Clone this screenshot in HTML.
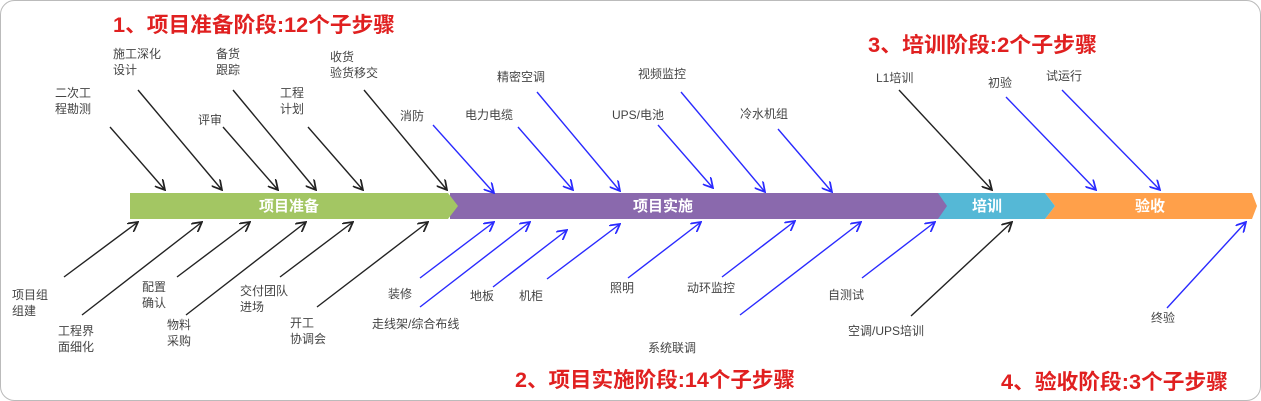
<!DOCTYPE html>
<html><head><meta charset="utf-8"><style>
html,body{margin:0;padding:0;background:#fff;}
body{width:1261px;height:401px;overflow:hidden;position:relative;}
svg{position:absolute;left:0;top:0;}
text{font-family:"Liberation Sans","Noto Sans CJK SC",sans-serif;}
.l{font-size:12px;fill:#444;}
.t{font-size:21px;fill:#e02020;font-weight:bold;}
.s{font-size:15px;fill:#fff;font-weight:bold;}
</style></head><body>
<svg width="1261" height="401" viewBox="0 0 1261 401">
<defs>
<marker id="mk" viewBox="0 0 10 10" refX="9" refY="5" markerWidth="11" markerHeight="11" markerUnits="userSpaceOnUse" orient="auto"><path d="M0,0 L9,5 L0,10" fill="none" stroke="#222" stroke-width="1.6"/></marker>
<marker id="mb" viewBox="0 0 10 10" refX="9" refY="5" markerWidth="11" markerHeight="11" markerUnits="userSpaceOnUse" orient="auto"><path d="M0,0 L9,5 L0,10" fill="none" stroke="#2a2aff" stroke-width="1.6"/></marker>
</defs>
<rect x="0.5" y="0.5" width="1260" height="400" rx="14" fill="#fff" stroke="#bbb"/>
<polygon points="1045,193 1252,193 1257,206 1252,219 1045,219 1055,206" fill="#ffa04a"/>
<polygon points="937,193 1045,193 1055,206 1045,219 937,219" fill="#55b8d6"/>
<polygon points="450,193 938,193 947,206 938,219 450,219" fill="#8a69ad"/>
<polygon points="130,193 448,193 458,206 448,219 130,219" fill="#a3c663"/>
<text class="s" x="289" y="211" text-anchor="middle">项目准备</text>
<text class="s" x="663" y="211" text-anchor="middle">项目实施</text>
<text class="s" x="987" y="211" text-anchor="middle">培训</text>
<text class="s" x="1150" y="211" text-anchor="middle">验收</text>
<g stroke="#222" stroke-width="1.4" fill="none" marker-end="url(#mk)">
<line x1="110" y1="127" x2="165" y2="190"/>
<line x1="138" y1="90" x2="222" y2="190"/>
<line x1="223" y1="127" x2="278" y2="190"/>
<line x1="233" y1="90" x2="316" y2="190"/>
<line x1="308" y1="127" x2="363" y2="190"/>
<line x1="364" y1="90" x2="447" y2="190"/>
<line x1="899" y1="90" x2="992" y2="190"/>
<line x1="64" y1="277" x2="138" y2="222"/>
<line x1="82" y1="315" x2="202" y2="222"/>
<line x1="177" y1="277" x2="250" y2="222"/>
<line x1="186" y1="315" x2="306" y2="222"/>
<line x1="280" y1="277" x2="353" y2="222"/>
<line x1="317" y1="307" x2="428" y2="222"/>
<line x1="911" y1="316" x2="1012" y2="222"/>
</g>
<g stroke="#2a2aff" stroke-width="1.4" fill="none" marker-end="url(#mb)">
<line x1="433" y1="125" x2="494" y2="193"/>
<line x1="518" y1="127" x2="573" y2="190"/>
<line x1="537" y1="92" x2="620" y2="191"/>
<line x1="658" y1="125" x2="713" y2="188"/>
<line x1="681" y1="92" x2="765" y2="192"/>
<line x1="778" y1="129" x2="832" y2="192"/>
<line x1="1006" y1="97" x2="1096" y2="190"/>
<line x1="1062" y1="90" x2="1160" y2="190"/>
<line x1="420" y1="278" x2="494" y2="222"/>
<line x1="420" y1="307" x2="530" y2="222"/>
<line x1="493" y1="287" x2="567" y2="230"/>
<line x1="547" y1="279" x2="620" y2="224"/>
<line x1="628" y1="278" x2="701" y2="222"/>
<line x1="722" y1="277" x2="795" y2="221"/>
<line x1="740" y1="315" x2="861" y2="222"/>
<line x1="862" y1="278" x2="935" y2="222"/>
<line x1="1167" y1="308" x2="1246" y2="222"/>
</g>
<text class="t" x="113" y="32" textLength="282" lengthAdjust="spacingAndGlyphs">1、项目准备阶段:12个子步骤</text>
<text class="t" x="515" y="387" textLength="280" lengthAdjust="spacingAndGlyphs">2、项目实施阶段:14个子步骤</text>
<text class="t" x="868" y="52" textLength="229" lengthAdjust="spacingAndGlyphs">3、培训阶段:2个子步骤</text>
<text class="t" x="1001" y="389" textLength="227" lengthAdjust="spacingAndGlyphs">4、验收阶段:3个子步骤</text>
<g class="l">
<text x="55" y="97">二次工</text><text x="55" y="113">程勘测</text>
<text x="113" y="58">施工深化</text><text x="113" y="74">设计</text>
<text x="216" y="58">备货</text><text x="216" y="74">跟踪</text>
<text x="198" y="124">评审</text>
<text x="280" y="97">工程</text><text x="280" y="113">计划</text>
<text x="330" y="61">收货</text><text x="330" y="77">验货移交</text>
<text x="400" y="120">消防</text>
<text x="465" y="119">电力电缆</text>
<text x="497" y="81">精密空调</text>
<text x="612" y="119">UPS/电池</text>
<text x="638" y="78">视频监控</text>
<text x="740" y="118">冷水机组</text>
<text x="876" y="82">L1培训</text>
<text x="988" y="87">初验</text>
<text x="1046" y="80">试运行</text>
<text x="12" y="299">项目组</text><text x="12" y="315">组建</text>
<text x="58" y="335">工程界</text><text x="58" y="351">面细化</text>
<text x="142" y="291">配置</text><text x="142" y="307">确认</text>
<text x="167" y="329">物料</text><text x="167" y="345">采购</text>
<text x="240" y="295">交付团队</text><text x="240" y="311">进场</text>
<text x="290" y="327">开工</text><text x="290" y="343">协调会</text>
<text x="388" y="298">装修</text>
<text x="372" y="328">走线架/综合布线</text>
<text x="470" y="300">地板</text>
<text x="519" y="300">机柜</text>
<text x="610" y="292">照明</text>
<text x="687" y="292">动环监控</text>
<text x="648" y="352">系统联调</text>
<text x="828" y="299">自测试</text>
<text x="848" y="335">空调/UPS培训</text>
<text x="1151" y="322">终验</text>
</g>
</svg>
</body></html>
